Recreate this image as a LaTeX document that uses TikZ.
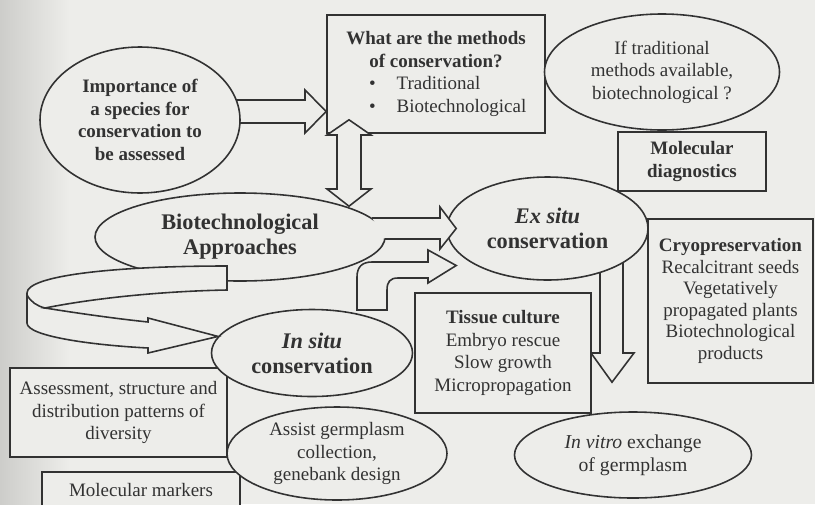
\documentclass[tikz,border=0pt]{standalone}
\usepackage{fontspec}
\setmainfont{Liberation Serif}
\usepackage{xcolor}
\usepackage{tikz}
\usetikzlibrary{shapes.geometric, calc, backgrounds}
\definecolor{myink}{RGB}{50,50,50}
\definecolor{mypaper}{RGB}{237,237,234}
\definecolor{myshade}{RGB}{205,205,202}
\tikzset{
  oval/.style={ellipse, draw=myink, fill=mypaper, inner sep=0pt,
    align=center, line width=0.9pt, text=myink,
    font=\fontsize{10.8}{12.8}\selectfont},
  box/.style={rectangle, draw=myink, fill=mypaper, inner sep=0pt,
    align=center, line width=0.9pt, text=myink,
    font=\fontsize{10.8}{12.8}\selectfont},
  boldtext/.style={font=\fontsize{10.8}{12.8}\selectfont\bfseries},
  bigtext/.style={font=\fontsize{12.7}{14.2}\selectfont\bfseries},
  hollow/.style={draw=myink, fill=mypaper, line width=0.9pt, line join=miter}
}

\begin{document}
\begin{tikzpicture}[x=0.2mm, y=-0.2mm]
  \useasboundingbox (0,0) rectangle (815,504);
  \begin{scope}[on background layer]
    \fill[mypaper] (0,0) rectangle (815,504);
    \shade[left color=myshade, right color=mypaper] (0,0) rectangle (70,504);
  \end{scope}

  % Boxes
  \node[box, minimum width=43.6mm, minimum height=23.6mm] (meth) at (436,74) {\textbf{What are the methods}\\ \textbf{of conservation?}\\ \hspace*{5.2mm}\makebox[32mm][l]{\textbullet\hspace{4.2mm}Traditional}\\ \hspace*{5.2mm}\makebox[32mm][l]{\textbullet\hspace{4.2mm}Biotechnological}};
  \node[box, boldtext, minimum width=29.6mm, minimum height=11.8mm] (moldiag) at (692,161.5) {Molecular\\ diagnostics};
  \node[box, minimum width=33mm, minimum height=32.8mm, font=\fontsize{10.8}{12.3}\selectfont] (cryo) at (730.5,301) {\textbf{Cryopreservation}\\ Recalcitrant seeds\\ Vegetatively\\ propagated plants\\ Biotechnological\\ products};
  \node[box, minimum width=35.2mm, minimum height=24mm] (tissue) at (503,353) {\textbf{Tissue culture}\\ Embryo rescue\\ Slow growth\\ Micropropagation};
  \node[box, minimum width=43.4mm, minimum height=17.8mm] (assess) at (118.5,412.5) {Assessment, structure and\\ distribution patterns of\\ diversity};
  \node[box, minimum width=39.6mm, minimum height=7.2mm] (molmark) at (141,490) {Molecular markers};

  % Ovals
  \node[oval, boldtext, minimum width=40mm, minimum height=29.2mm] (imp) at (140,120) {Importance of\\ a species for\\ conservation to\\ be assessed};
  \node[oval, minimum width=47mm, minimum height=23.2mm] (iftrad) at (662,72) {If traditional\\ methods available,\\ biotechnological ?};
  \node[oval, bigtext, minimum width=58mm, minimum height=17.6mm] (biotech) at (240,237) {Biotechnological\\ Approaches};
  \node[oval, bigtext, minimum width=40.2mm, minimum height=20.6mm] (exsitu) at (547.5,228.5) {\textit{Ex situ}\\ conservation};
  \node[oval, bigtext, minimum width=40.2mm, minimum height=17.4mm] (insitu) at (312,353) {\textit{In situ}\\ conservation};
  \node[oval, minimum width=47.4mm, minimum height=17.2mm, font=\fontsize{11.2}{13}\selectfont] (invitro) at (633,455) {\textit{In vitro} exchange\\ of germplasm};
  \node[oval, minimum width=44mm, minimum height=18.6mm] (assist) at (337,453.5) {Assist germplasm\\ collection,\\ genebank design};

  % Arrows behind the nodes
  \begin{scope}[on background layer]
    \draw[hollow] ($(imp.center)+(60,-20)$) -- (305,100) -- (305,90) -- ($(meth.west)+(0,37.5)$) -- (305,133) -- (305,123) -- ($(imp.center)+(60,3)$) -- cycle;
    \draw[hollow] (600,250) -- (600,353) -- (591,353) -- ($(invitro.north)+(-21,-29)$) -- (634,353) -- (623,353) -- (623,250) -- cycle;
  \end{scope}

  % Arrows over the nodes
  \draw[hollow] ($(meth.south)+(-87,-14)$) -- (371,135) -- (361,135) -- (361,189) -- (371,189) -- ($(biotech.north)+(109,14)$) -- (327,189) -- (337,189) -- (337,135) -- (327,135) -- cycle;
  \draw[hollow] (372,218) -- (440,218) -- (440,207) -- ($(exsitu.west)+(10,0)$) -- (440,249) -- (440,239) -- (385,239);
  \draw[hollow] (357,310) -- (357,277) .. controls (357,267) and (362,262) .. (372,262) -- (428,262) -- (428,250) -- ($(exsitu.west)+(10,37)$) -- (428,283) -- (428,278) -- (398,278) .. controls (390,278) and (387,282) .. (387,290) -- (387,310) -- cycle;

  % Ribbon from Biotechnological Approaches to In situ
  \draw[hollow] (227,266) .. controls (110,266) and (27,276) .. (27,293) -- (27,323) .. controls (27,336) and (90,345) .. (148,348) -- (148,353) -- (insitu.170) -- (148,318) -- (148,322) .. controls (110,318) and (70,312) .. (45,308) .. controls (100,297) and (170,291) .. (227,290) -- cycle;
  \draw[hollow, fill=none] (27,295) .. controls (31,302) and (37,306) .. (45,308);
\end{tikzpicture}
\end{document}
